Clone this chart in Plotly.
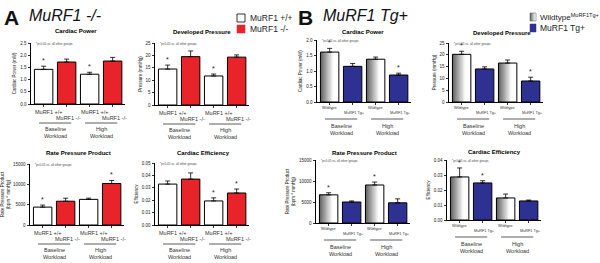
import plotly.graph_objects as go

W, H = 600, 263

# ---------------- data ----------------
group_names = ["Baseline<br>Workload", "High<br>Workload"]
a_bar_labels = ["MuRF1 +/+", "MuRF1 -/-"]
b_bar_labels = ["Wildtype", "MuRF1 Tg+"]

# Panel A (MuRF1 -/-) : [baseline, high]
a_cp_wt = [1.42, 1.22]; a_cp_wt_err = [0.13, 0.08]
a_cp_ko = [1.72, 1.76]; a_cp_ko_err = [0.12, 0.15]
a_dp_wt = [14.5, 11.7]; a_dp_wt_err = [1.6, 0.8]
a_dp_ko = [19.5, 19.3]; a_dp_ko_err = [2.3, 0.9]
a_rpp_wt = [4400, 6300]; a_rpp_wt_err = [500, 300]
a_rpp_ko = [5850, 10200]; a_rpp_ko_err = [750, 750]
a_ce_wt = [0.0330, 0.0194]; a_ce_wt_err = [0.0025, 0.0025]
a_ce_ko = [0.0370, 0.0258]; a_ce_ko_err = [0.0050, 0.0032]

# Panel B (MuRF1 Tg+) : [baseline, high]
b_cp_wt = [1.61, 1.38]; b_cp_wt_err = [0.12, 0.07]
b_cp_tg = [1.15, 0.87]; b_cp_tg_err = [0.09, 0.06]
b_dp_wt = [20.2, 16.5]; b_dp_wt_err = [1.3, 1.3]
b_dp_tg = [14.0, 8.9]; b_dp_tg_err = [0.9, 1.6]
b_rpp_wt = [6700, 9050]; b_rpp_wt_err = [500, 700]
b_rpp_tg = [5000, 4800]; b_rpp_tg_err = [250, 950]
b_ce_wt = [0.0287, 0.0147]; b_ce_wt_err = [0.0060, 0.0026]
b_ce_tg = [0.0247, 0.0127]; b_ce_tg_err = [0.0015, 0.0006]

# significance flags: [ctrl base, mut base, ctrl high, mut high]
a_cp_sig = [1, 0, 1, 0]
a_dp_sig = [1, 0, 1, 0]
a_rpp_sig = [1, 0, 0, 1]
a_ce_sig = [0, 0, 1, 1]
b_cp_sig = [1, 0, 0, 1]
b_dp_sig = [1, 0, 0, 1]
b_rpp_sig = [1, 0, 1, 0]
b_ce_sig = [1, 1, 0, 0]

RED = "#e8232a"
BLUE = "#2e3192"
FONT = "Liberation Sans, Arial, sans-serif"

def xp(px):
    return px / W

def yp(py):
    return 1 - py / H

panels = [
    dict(title="Cardiac Power", ytitle="Cardiac Power (mW)", left=31, y0=104, ytop=43, ymax=2.5, dtick=0.5, fmt=".1f",
         ctrl=a_cp_wt, ctrl_err=a_cp_wt_err, mut=a_cp_ko, mut_err=a_cp_ko_err, sig=a_cp_sig, kind="A", ty=31, tx=45),
    dict(title="Developed Pressure", ytitle="Pressure (mmHg)", left=155, y0=105, ytop=43, ymax=25, dtick=5, fmt="d",
         ctrl=a_dp_wt, ctrl_err=a_dp_wt_err, mut=a_dp_ko, mut_err=a_dp_ko_err, sig=a_dp_sig, kind="A", ty=32, tx=47),
    dict(title="Rate Pressure Product", ytitle="Rate Pressure Product<br>(bpm * mmHg)", left=30, y0=225, ytop=164, ymax=15000, dtick=5000, fmt="d",
         ctrl=a_rpp_wt, ctrl_err=a_rpp_wt_err, mut=a_rpp_ko, mut_err=a_rpp_ko_err, sig=a_rpp_sig, kind="A", ty=153, tx=49),
    dict(title="Cardiac Efficiency", ytitle="Efficiency", left=155, y0=225, ytop=163, ymax=0.05, dtick=0.01, fmt=".2f",
         ctrl=a_ce_wt, ctrl_err=a_ce_wt_err, mut=a_ce_ko, mut_err=a_ce_ko_err, sig=a_ce_sig, kind="A", ty=153, tx=48),
    dict(title="Cardiac Power", ytitle="Cardiac Power (mW)", left=317, y0=102, ytop=40, ymax=2.0, dtick=0.5, fmt=".1f",
         ctrl=b_cp_wt, ctrl_err=b_cp_wt_err, mut=b_cp_tg, mut_err=b_cp_tg_err, sig=b_cp_sig, kind="B", ty=32, tx=46),
    dict(title="Developed Pressure", ytitle="Pressure (mmHg)", left=449, y0=102, ytop=43, ymax=25, dtick=5, fmt="d",
         ctrl=b_dp_wt, ctrl_err=b_dp_wt_err, mut=b_dp_tg, mut_err=b_dp_tg_err, sig=b_dp_sig, kind="B", ty=33, tx=53),
    dict(title="Rate Pressure Product", ytitle="Rate Pressure Product<br>(bpm * mmHg)", left=316, y0=223, ytop=160, ymax=15000, dtick=5000, fmt="d",
         ctrl=b_rpp_wt, ctrl_err=b_rpp_wt_err, mut=b_rpp_tg, mut_err=b_rpp_tg_err, sig=b_rpp_sig, kind="B", ty=153, tx=49),
    dict(title="Cardiac Efficiency", ytitle="Efficiency", left=447, y0=220, ytop=160, ymax=0.04, dtick=0.01, fmt=".2f",
         ctrl=b_ce_wt, ctrl_err=b_ce_wt_err, mut=b_ce_tg, mut_err=b_ce_tg_err, sig=b_ce_sig, kind="B", ty=152, tx=47),
]

PX_PER_UNIT = 23
XMIN, XMAX = 0.45, 4.55
PW = (XMAX - XMIN) * PX_PER_UNIT

fig = go.Figure()
layout = dict(template="none", width=W, height=H, margin=dict(l=0, r=0, t=0, b=0, pad=0), autosize=False,
              paper_bgcolor="white", plot_bgcolor="white", barmode="overlay",
              showlegend=False, font=dict(family=FONT, color="black"))
annotations = []
shapes = []

ctrl_pos = [1, 3]
mut_pos = [2, 4]

def ann(**kw):
    kw.setdefault("xanchor", "center")
    kw.setdefault("yanchor", "middle")
    kw.setdefault("showarrow", False)
    annotations.append(kw)

def err_dict(arr):
    return dict(type="data", array=arr, arrayminus=[0] * len(arr), symmetric=False,
                color="black", thickness=0.8, width=2.5, visible=True)

for i, p in enumerate(panels, start=1):
    xa = "x" if i == 1 else f"x{i}"
    ya = "y" if i == 1 else f"y{i}"
    xk = "xaxis" if i == 1 else f"xaxis{i}"
    yk = "yaxis" if i == 1 else f"yaxis{i}"
    left = p["left"]
    layout[xk] = dict(domain=[xp(left), xp(left + PW)], range=[XMIN, XMAX], anchor=ya, automargin=False,
                      showgrid=False, zeroline=False, showline=True, linecolor="black", linewidth=1,
                      ticks="outside", ticklen=2, tickcolor="black", tickwidth=0.8,
                      tickvals=[1, 2, 3, 4], showticklabels=False, fixedrange=True)
    layout[yk] = dict(domain=[yp(p["y0"]), yp(p["ytop"])], range=[0, p["ymax"]], anchor=xa, automargin=False,
                      showgrid=False, zeroline=False, showline=True, linecolor="black", linewidth=1,
                      ticks="outside", ticklen=2.5, tickcolor="black", tickwidth=0.8,
                      dtick=p["dtick"], tick0=0, tickformat=p["fmt"],
                      tickfont=dict(size=4.5, family=FONT, color="#222"),
                      title=dict(text=p["ytitle"], font=dict(size=4.5, family=FONT, color="#222"), standoff=3),
                      fixedrange=True)
    if p["kind"] == "A":
        fig.add_trace(go.Bar(x=ctrl_pos, y=p["ctrl"], width=0.8, xaxis=xa, yaxis=ya,
                             marker=dict(color="white", line=dict(color="black", width=1)),
                             error_y=err_dict(p["ctrl_err"]), hoverinfo="skip"))
        fig.add_trace(go.Bar(x=mut_pos, y=p["mut"], width=0.8, xaxis=xa, yaxis=ya,
                             marker=dict(color=RED, line=dict(color="black", width=1)),
                             error_y=err_dict(p["mut_err"]), hoverinfo="skip"))
        labels = a_bar_labels
    else:
        n = 14
        for k in range(n):
            frac = (n - k) / n
            f = (n - k - 0.5) / n
            g = int(95 + (255 - 95) * min(1.0, f / 0.7))
            fig.add_trace(go.Bar(x=ctrl_pos, y=p["ctrl"], width=0.8 * frac, offset=-0.4, xaxis=xa, yaxis=ya,
                                 marker=dict(color=f"rgb({g},{g},{g})", line=dict(width=0)), hoverinfo="skip"))
        fig.add_trace(go.Bar(x=ctrl_pos, y=p["ctrl"], width=0.8, offset=-0.4, xaxis=xa, yaxis=ya,
                             marker=dict(color="rgba(0,0,0,0)", line=dict(color="black", width=1)),
                             error_y=err_dict(p["ctrl_err"]), hoverinfo="skip"))
        fig.add_trace(go.Bar(x=mut_pos, y=p["mut"], width=0.8, xaxis=xa, yaxis=ya,
                             marker=dict(color=BLUE, line=dict(color="black", width=1)),
                             error_y=err_dict(p["mut_err"]), hoverinfo="skip"))
        labels = b_bar_labels

    vals = [p["ctrl"][0], p["mut"][0], p["ctrl"][1], p["mut"][1]]
    errs = [p["ctrl_err"][0], p["mut_err"][0], p["ctrl_err"][1], p["mut_err"][1]]
    for j, s in enumerate(p["sig"]):
        if s:
            ann(x=j + 1, y=vals[j] + errs[j], xref=xa, yref=ya, text="*", yanchor="bottom",
                yshift=0, font=dict(size=7, family=FONT, color="#222"))
    ann(x=xp(left + p["tx"]), y=yp(p["ty"]), xref="paper", yref="paper",
        text=f"<b>{p['title']}</b>", font=dict(size=6, family=FONT, color="black"))
    ann(x=xp(left + 3), y=yp(p["ytop"] + 1), xref="paper", yref="paper",
        text="*p<0.05 vs. all other groups", xanchor="left",
        font=dict(size=3, family=FONT, color="#444"))
    y0 = p["y0"]
    if p["kind"] == "A":
        o1, o2, ol, ob, lab_size = 8, 14, 19, 28.5, 5.5
        dx1, dx2 = 0.25, 0.1
    else:
        o1, o2, ol, ob, lab_size = 6, 11, 17, 27, 3.8
        dx1, dx2 = 0.0, 0.1
    for g in range(2):
        base = 1 + 2 * g
        ann(x=base + dx1, y=yp(y0 + o1), xref=xa, yref="paper", text=labels[0],
            font=dict(size=lab_size, family=FONT, color="#333"))
        ann(x=base + 1 + dx2, y=yp(y0 + o2), xref=xa, yref="paper", text=labels[1],
            font=dict(size=lab_size, family=FONT, color="#333"))
        shapes.append(dict(type="line", xref=xa, yref="paper", x0=base - 0.2, x1=base + 1.2,
                           y0=yp(y0 + ol), y1=yp(y0 + ol), line=dict(color="#333", width=0.8)))
        ann(x=base + 0.5, y=yp(y0 + ob), xref=xa, yref="paper", text=group_names[g],
            font=dict(size=5.5, family=FONT, color="#333"))

# headers
ann(x=xp(2), y=yp(17), xref="paper", yref="paper", text="<b>A</b>", xanchor="left",
    font=dict(size=21, family=FONT, color="#111"))
ann(x=xp(27), y=yp(15), xref="paper", yref="paper", text="<i>MuRF1 -/-</i>", xanchor="left",
    font=dict(size=16, family=FONT, color="#111"))
ann(x=xp(296), y=yp(17), xref="paper", yref="paper", text="<b>B</b>", xanchor="left",
    font=dict(size=21, family=FONT, color="#111"))
ann(x=xp(321), y=yp(15), xref="paper", yref="paper", text="<i>MuRF1 Tg+</i>", xanchor="left",
    font=dict(size=16, family=FONT, color="#111"))

# legend A
shapes.append(dict(type="rect", xref="paper", yref="paper", x0=xp(237), x1=xp(245), y0=yp(22), y1=yp(14),
                   line=dict(color="black", width=0.8), fillcolor="white"))
shapes.append(dict(type="rect", xref="paper", yref="paper", x0=xp(237), x1=xp(245), y0=yp(33), y1=yp(25),
                   line=dict(color=RED, width=0.5), fillcolor=RED))
ann(x=xp(248), y=yp(18), xref="paper", yref="paper", text=a_bar_labels[0], xanchor="left",
    font=dict(size=8.5, family=FONT, color="#222"))
ann(x=xp(248), y=yp(29), xref="paper", yref="paper", text=a_bar_labels[1], xanchor="left",
    font=dict(size=8.5, family=FONT, color="#222"))
# legend B
for k in range(6):
    g = int(110 + (255 - 110) * k / 5)
    shapes.append(dict(type="rect", xref="paper", yref="paper", x0=xp(530 + k), x1=xp(531 + k), y0=yp(21), y1=yp(13),
                       line=dict(width=0), fillcolor=f"rgb({g},{g},{g})"))
shapes.append(dict(type="rect", xref="paper", yref="paper", x0=xp(530), x1=xp(536), y0=yp(21), y1=yp(13),
                   line=dict(color="#555", width=0.5), fillcolor="rgba(0,0,0,0)"))
shapes.append(dict(type="rect", xref="paper", yref="paper", x0=xp(530), x1=xp(536), y0=yp(32), y1=yp(24),
                   line=dict(color=BLUE, width=0.5), fillcolor=BLUE))
ann(x=xp(538), y=yp(17), xref="paper", yref="paper", text="Wildtype<sup>MuRF1Tg+</sup>", xanchor="left",
    font=dict(size=8, family=FONT, color="#222"))
ann(x=xp(538), y=yp(28), xref="paper", yref="paper", text=b_bar_labels[1], xanchor="left",
    font=dict(size=8.5, family=FONT, color="#222"))

layout["annotations"] = annotations
layout["shapes"] = shapes
fig.update_layout(**layout)
fig.write_html("out.html", config={"displayModeBar": False, "staticPlot": True},
               post_script="document.body.style.margin='0px';document.body.style.padding='0px';")
